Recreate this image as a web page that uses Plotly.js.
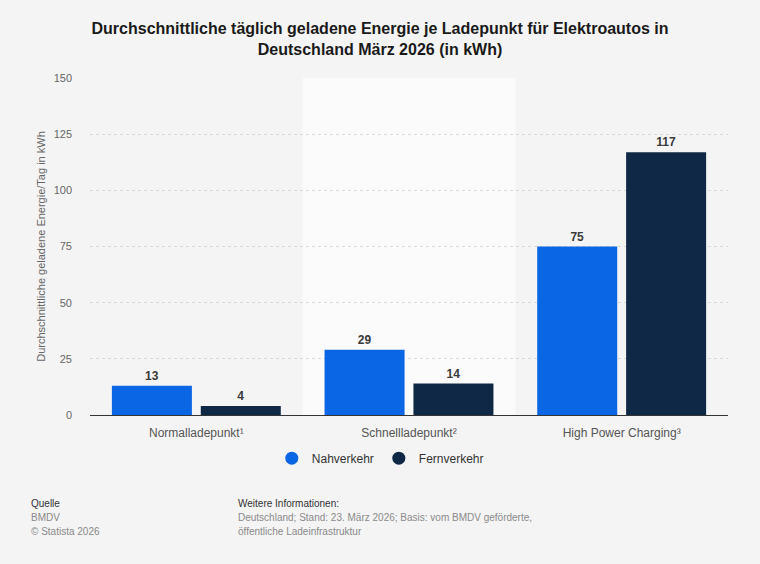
<!DOCTYPE html>
<html>
<head>
<meta charset="utf-8">
<script src="https://cdn.plot.ly/plotly-3.0.1.min.js"></script>
<style>
  html, body { margin: 0; padding: 0; background: #f4f4f4; }
  #chart { width: 760px; height: 564px; }
</style>
</head>
<body>
<div id="chart"></div>
<script>
  var categories = ['Normalladepunkt¹', 'Schnellladepunkt²', 'High Power Charging³'];
  var seriesNames = ['Nahverkehr', 'Fernverkehr'];
  var nahverkehr = [13, 29, 75];
  var fernverkehr = [4, 14, 117];
  var yTicks = [0, 25, 50, 75, 100, 125, 150];

  var colors = ['#0a66e4', '#0f2846'];
  var font = 'Liberation Sans, Arial, sans-serif';

  function barTrace(name, values, color) {
    return {
      type: 'bar',
      name: name,
      x: categories,
      y: values,
      marker: { color: color },
      text: values.map(String),
      textposition: 'outside',
      cliponaxis: false,
      textfont: { family: font, size: 12, color: '#3a3a3a', weight: 'bold' },
      showlegend: false,
      hoverinfo: 'x+y'
    };
  }

  // dummy traces so the legend shows round markers
  function legendTrace(name, color) {
    return {
      type: 'scatter',
      mode: 'markers',
      name: name,
      x: [null],
      y: [null],
      marker: { color: color, size: 13, symbol: 'circle' },
      hoverinfo: 'skip'
    };
  }

  var traces = [
    barTrace(seriesNames[0], nahverkehr, colors[0]),
    barTrace(seriesNames[1], fernverkehr, colors[1]),
    legendTrace(seriesNames[0], colors[0]),
    legendTrace(seriesNames[1], colors[1])
  ];

  var layout = {
    width: 760,
    height: 564,
    paper_bgcolor: '#f4f4f4',
    plot_bgcolor: 'rgba(0,0,0,0)',
    font: { family: font, color: '#333333' },
    margin: { l: 90, r: 32, t: 78, b: 149 },
    title: {
      text: '<b>Durchschnittliche täglich geladene Energie je Ladepunkt für Elektroautos in<br>Deutschland März 2026 (in kWh)</b>',
      font: { family: font, size: 16, color: '#1a1a1a' },
      x: 0.5,
      xanchor: 'center',
      y: 0.94,
      yanchor: 'top'
    },
    barmode: 'group',
    bargap: 0.164,
    bargroupgap: 0.1,
    xaxis: {
      type: 'category',
      tickfont: { family: font, size: 12, color: '#555555' },
      ticks: '',
      ticklabelstandoff: 9,
      showgrid: false,
      showline: false,
      zeroline: false,
      fixedrange: true
    },
    yaxis: {
      range: [0, 150],
      tickvals: yTicks,
      ticktext: yTicks.map(String),
      tickfont: { family: font, size: 11, color: '#666666' },
      ticklabelstandoff: 17,
      showgrid: true,
      gridcolor: '#dadada',
      griddash: 'dot',
      gridwidth: 1,
      zeroline: true,
      zerolinecolor: '#333333',
      zerolinewidth: 1.3,
      title: {
        text: 'Durchschnittliche geladene Energie/Tag in kWh',
        font: { family: font, size: 11, color: '#666666' },
        standoff: 5
      },
      fixedrange: true
    },
    shapes: [
      {
        type: 'rect',
        xref: 'x',
        yref: 'paper',
        x0: 0.5,
        x1: 1.5,
        y0: 0,
        y1: 1,
        fillcolor: '#fbfbfb',
        line: { width: 0 },
        layer: 'below'
      }
    ],
    legend: {
      orientation: 'h',
      x: 0.455,
      xanchor: 'center',
      y: -0.085,
      yanchor: 'top',
      font: { family: font, size: 12, color: '#333333' },
      bgcolor: 'rgba(0,0,0,0)',
      itemclick: false,
      itemdoubleclick: false
    },
    annotations: [
      { text: 'Quelle', x: 29, y: 503 },
      { text: 'BMDV', x: 29, y: 517, grey: true },
      { text: '© Statista 2026', x: 29, y: 531, grey: true },
      { text: 'Weitere Informationen:', x: 236, y: 503 },
      { text: 'Deutschland; Stand: 23. März 2026; Basis: vom BMDV geförderte,', x: 236, y: 517, grey: true },
      { text: 'öffentliche Ladeinfrastruktur', x: 236, y: 531, grey: true }
    ].map(function (a) {
      return {
        text: a.text,
        xref: 'paper',
        yref: 'paper',
        x: (a.x - 90) / (760 - 90 - 32),
        y: (564 - 149 - a.y) / (564 - 78 - 149),
        xanchor: 'left',
        yanchor: 'middle',
        showarrow: false,
        font: { family: font, size: 10, color: a.grey ? '#8a8a8a' : '#333333' }
      };
    })
  };

  Plotly.newPlot('chart', traces, layout, { displayModeBar: false });
</script>
</body>
</html>
